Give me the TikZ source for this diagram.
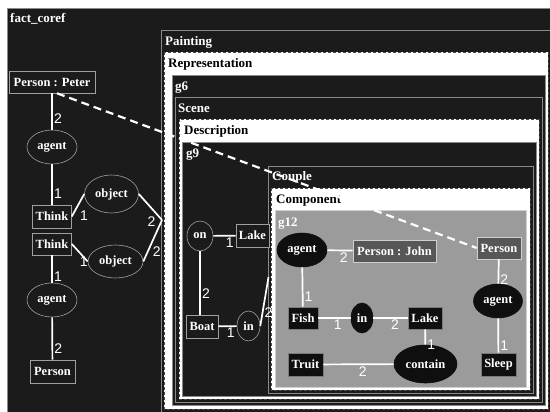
\documentclass[tikz,border=0pt]{standalone}
\usepackage{fontspec}
\setmainfont{Liberation Serif}
\newfontfamily\cglblfam{Liberation Sans}
\usetikzlibrary{shapes.geometric,calc}
\definecolor{bgdark}{HTML}{1B1B1B}
\definecolor{boxgray}{HTML}{8A8A8A}
\definecolor{dashgray}{HTML}{4A4A4A}
\definecolor{nodegray}{HTML}{A0A0A0}
\definecolor{gfill}{HTML}{9B9B9B}
\definecolor{gborder}{HTML}{CFCFCF}
\definecolor{pfill}{HTML}{575757}
\definecolor{blk}{HTML}{0F0F0F}
\definecolor{rkgray}{HTML}{7A7A7A}
\newcommand\cgnodefont{\fontsize{12.5}{14}\selectfont\bfseries}
\newcommand\cgttlfont{\fontsize{13}{15}\selectfont\bfseries}
\newcommand\cglblfont{\cglblfam\fontsize{14}{16}\selectfont}
\begin{document}
\begin{tikzpicture}[x=1pt,y=-1pt,
 darkbox/.style={fill=bgdark,draw=boxgray,line width=0.8pt},
 whitebox/.style={fill=white,draw=dashgray,line width=0.9pt,dash pattern=on 3pt off 2pt},
 gbox/.style={fill=gfill,draw=gborder,line width=0.8pt},
 ttl/.style={font=\cgttlfont,anchor=base west,inner sep=0pt,text=white},
 ttlk/.style={ttl,text=black},
 rn/.style={rectangle,draw=nodegray,fill=bgdark,text=white,font=\cgnodefont,inner sep=0pt,minimum height=22pt,line width=0.6pt},
 en/.style={ellipse,draw=nodegray,fill=bgdark,text=white,font=\cgnodefont,inner sep=0pt,line width=0.6pt},
 rk/.style={rn,fill=blk,draw=rkgray},
 ek/.style={en,fill=blk,draw=blk},
 rp/.style={rn,fill=pfill,draw=gborder},
 conn/.style={draw=white,line width=1.7pt},
 lbl/.style={font=\cglblfont,text=white,inner sep=1.2pt},
 coref/.style={draw=white,line width=2.2pt,dash pattern=on 8pt off 5pt}
]
\useasboundingbox (0,0) rectangle (550,412);
\fill[white] (0,0) rectangle (550,412);
% containers
\draw[darkbox] (7,8) rectangle (560,420);
\node[ttl] (tfact) at (10,23) {fact\_coref};
\draw[darkbox] (161,30) rectangle (551,412);
\node[ttl] (tpaint) at (165,46) {Painting};
\draw[whitebox] (164,52) rectangle (548,409);
\node[ttlk] (trep) at (168,68) {Representation};
\draw[darkbox] (172,75) rectangle (545,405);
\node[ttl] (tg6) at (175,91) {g6};
\draw[darkbox] (175,97) rectangle (542,402);
\node[ttl] (tscene) at (178,113) {Scene};
\draw[whitebox] (179,119) rectangle (539,399);
\node[ttlk] (tdesc) at (184,135) {Description};
\draw[darkbox] (182,142) rectangle (536,396);
\node[ttl] (tg9) at (186,158) {g9};
\draw[darkbox] (268,166) rectangle (533,393);
\node[ttl] (tcouple) at (272,181) {Couple};
\draw[whitebox] (271,188) rectangle (530,390);
\node[ttlk] (tcomp) at (276,204) {Component};
\draw[gbox] (275,210) rectangle (526,387);
\node[ttl] (tg12) at (278,226) {g12};
% left graph
\node[rn,minimum width=86pt] (pp) at (52,82) {Person : Peter};
\node[en,minimum width=50pt,minimum height=34pt] (ag1) at (52,147) {agent};
\node[rn,minimum width=39pt,minimum height=23pt] (th1) at (52,216.5) {Think};
\node[rn,minimum width=39pt] (th2) at (52,244) {Think};
\node[en,minimum width=54pt,minimum height=38pt] (ob1) at (111.5,194) {object};
\node[en,minimum width=55pt,minimum height=33pt] (ob2) at (115.5,261.5) {object};
\node[en,minimum width=50pt,minimum height=34pt] (ag2) at (52,300) {agent};
\node[rn,minimum width=45pt,minimum height=23pt] (ps) at (52.5,371.5) {Person};
\coordinate (pc) at (162,220);
% g9
\node[en,minimum width=26pt,minimum height=30pt] (on) at (200,236) {on};
\node[rn,minimum width=33pt,minimum height=23pt] (lk1) at (252.5,235.5) {Lake};
\node[rn,minimum width=32pt,minimum height=23pt] (bt) at (202,326.5) {Boat};
\node[en,minimum width=23pt,minimum height=30pt] (in1) at (248.5,326) {in};
\coordinate (cpl) at (268.5,277);
% g12
\node[ek,minimum width=50pt,minimum height=34pt] (ag3) at (302,250) {agent};
\node[rp,minimum width=83pt] (pj) at (394.5,251) {Person : John};
\node[rp,minimum width=44pt] (pg) at (499,248) {Person};
\node[ek,minimum width=49pt,minimum height=34pt] (ag4) at (498,301) {agent};
\node[rk,minimum width=35pt,minimum height=23pt] (sl) at (498.5,364.5) {Sleep};
\node[rk,minimum width=30pt] (fi) at (303,318) {Fish};
\node[ek,minimum width=22pt,minimum height=30pt] (in2) at (362,318) {in};
\node[rk,minimum width=34pt] (lk2) at (425,318) {Lake};
\node[ek,minimum width=63pt,minimum height=38pt] (ct) at (425.5,364) {contain};
\node[rk,minimum width=35pt,minimum height=23pt] (tr) at (305.5,364.5) {Truit};
% connectors left
\draw[conn] (pp) -- node[lbl,pos=0.7,anchor=west]{2} (ag1);
\draw[conn] (ag1) -- node[lbl,pos=0.73,anchor=west]{1} (th1);
\draw[conn] (th1.east) -- node[lbl,pos=0.35,anchor=north west,xshift=2pt]{1} (ob1.west);
\draw[conn] (th2.east) -- node[lbl,pos=1,anchor=east,xshift=2pt]{1} (ob2.west);
\draw[conn] (ob1.east) -- node[lbl,pos=0.8,anchor=north east]{2} (pc);
\draw[conn] (ob2.east) -- node[lbl,pos=0.4,anchor=north west]{2} (pc);
\draw[conn] (th2) -- node[lbl,pos=0.79,anchor=west]{1} (ag2);
\draw[conn] (ag2) -- node[lbl,pos=0.74,anchor=west]{2} (ps);
% connectors g9
\draw[conn] (on) -- node[lbl,pos=0.74,anchor=north]{1} (lk1);
\draw[conn] (on.south) -- node[lbl,pos=0.66,anchor=west]{2} (on.south |- bt.north);
\draw[conn] (bt) -- node[lbl,pos=0.68,anchor=north]{1} (in1);
\draw[conn] (in1.east) -- node[lbl,pos=0.28,anchor=west]{2} (cpl);
% connectors g12
\draw[conn] (ag3) -- node[lbl,pos=0.65,anchor=north]{2} (pj);
\draw[conn] (ag3) -- node[lbl,pos=0.75,anchor=west]{1} (fi);
\draw[conn] (fi) -- node[lbl,pos=0.6,anchor=north]{1} (in2);
\draw[conn] (in2) -- node[lbl,pos=0.63,anchor=north]{2} (lk2);
\draw[conn] (lk2) -- node[lbl,pos=1,anchor=west]{1} (ct);
\draw[conn] (tr) -- node[lbl,pos=0.56,anchor=north]{2} (ct);
\draw[conn] (pg) -- node[lbl,pos=0.84,anchor=west]{2} (ag4);
\draw[conn] (ag4) -- node[lbl,pos=0.8,anchor=west]{1} (sl);
% coreference
\draw[coref] ($(pp.south)+(5,0)$) -- (pg.west);
\end{tikzpicture}
\end{document}
